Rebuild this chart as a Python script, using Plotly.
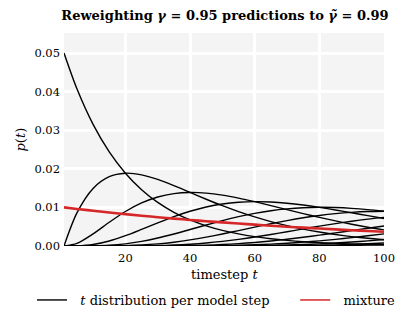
import plotly.graph_objects as go

# timesteps at which the curves were read
timesteps = [1, 5, 10, 15, 20, 25, 30, 35, 40, 45, 50, 55, 60, 65, 70, 75, 80, 85, 90, 95, 100]

# p(t) for each model step (1..12)
step1 = [0.05, 0.04073, 0.03151, 0.02438, 0.01887, 0.01460, 0.01130, 0.00874, 0.00676, 0.00523, 0.00405,
         0.00313, 0.00242, 0.00188, 0.00145, 0.00112, 0.00087, 0.00067, 0.00052, 0.00040, 0.00031]
step2 = [0.0, 0.008574, 0.014927, 0.017967, 0.018868, 0.018441, 0.017243, 0.015643, 0.013883, 0.012120, 0.010443,
         0.008906, 0.007529, 0.006320, 0.005272, 0.004374, 0.003615, 0.002974, 0.002438, 0.001992, 0.001623]
step3 = [0.0, 0.000677, 0.003143, 0.006147, 0.008937, 0.011162, 0.012705, 0.013585, 0.013883, 0.013715, 0.013192,
         0.012422, 0.011492, 0.010478, 0.009433, 0.008403, 0.007421, 0.006495, 0.005646, 0.004875, 0.004187]
step4 = [0.0, 0.0000237, 0.000386, 0.001294, 0.002666, 0.004308, 0.006018, 0.007626, 0.009012, 0.010106, 0.010877,
         0.011332, 0.011492, 0.011397, 0.011088, 0.010615, 0.010024, 0.009344, 0.008618, 0.007869, 0.007125]
step5 = [0.0, 0.0000003, 0.0000305, 0.000187, 0.000561, 0.001190, 0.002059, 0.003111, 0.004269, 0.005452, 0.006584,
         0.007605, 0.008468, 0.009148, 0.009629, 0.009917, 0.010024, 0.009959, 0.009752, 0.009424, 0.009002]
step6 = [0.0, 0.0, 0.0000016, 0.0000197, 0.0000886, 0.000251, 0.000542, 0.000982, 0.001573, 0.002295, 0.003119,
         0.004002, 0.004903, 0.005778, 0.006589, 0.007308, 0.007912, 0.008386, 0.008724, 0.008927, 0.009001]
step7 = [0.0, 0.0, 0.0, 0.0000016, 0.0000109, 0.0000418, 0.000114, 0.000250, 0.000469, 0.000785, 0.001204,
         0.001720, 0.002322, 0.002990, 0.003699, 0.004423, 0.005136, 0.005811, 0.006428, 0.006969, 0.007422]
step8 = [0.0, 0.0, 0.0, 0.0, 0.0000011, 0.0000057, 0.0000197, 0.0000526, 0.000116, 0.000224, 0.000389,
         0.000621, 0.000925, 0.001304, 0.001752, 0.002262, 0.002819, 0.003408, 0.004012, 0.004611, 0.005190]
step9 = [0.0, 0.0, 0.0, 0.0, 0.0, 0.0000006, 0.0000029, 0.0000093, 0.0000245, 0.0000546, 0.000108,
         0.000192, 0.000317, 0.000489, 0.000715, 0.000997, 0.001335, 0.001726, 0.002164, 0.002639, 0.003141]
step10 = [0.0, 0.0, 0.0, 0.0, 0.0, 0.0, 0.0000004, 0.0000014, 0.0000044, 0.0000115, 0.0000258,
          0.0000516, 0.0000944, 0.000160, 0.000255, 0.000385, 0.000554, 0.000767, 0.001025, 0.001327, 0.001672]
step11 = [0.0, 0.0, 0.0, 0.0, 0.0, 0.0, 0.0, 0.0, 0.0000007, 0.0000021, 0.0000054,
          0.0000122, 0.0000248, 0.0000464, 0.0000805, 0.000132, 0.000204, 0.000303, 0.000432, 0.000594, 0.000792]
step12 = [0.0, 0.0, 0.0, 0.0, 0.0, 0.0, 0.0, 0.0, 0.0, 0.0, 0.0000008,
          0.0000022, 0.0000058, 0.000012, 0.0000227, 0.0000403, 0.0000674, 0.000107, 0.000163, 0.000239, 0.000337]
steps = [step1, step2, step3, step4, step5, step6, step7, step8, step9, step10, step11, step12]

# mixture distribution
mixture = [0.01, 0.009606, 0.009135, 0.008688, 0.008262, 0.007857, 0.007472, 0.007106, 0.006757, 0.006426, 0.006111,
           0.005812, 0.005527, 0.005256, 0.004998, 0.004753, 0.004520, 0.004299, 0.004088, 0.003888, 0.003697]

x_ticks = [20, 40, 60, 80, 100]
y_ticks = [0.0, 0.01, 0.02, 0.03, 0.04, 0.05]
y_tick_labels = ["0.00", "0.01", "0.02", "0.03", "0.04", "0.05"]

SERIF = "DejaVu Serif"
RED = "#d62728"
SP = "&nbsp;"

fig = go.Figure()
for i, s in enumerate(steps):
    fig.add_trace(go.Scatter(
        x=timesteps, y=s, mode="lines",
        line=dict(color="black", width=1.4, shape="spline", smoothing=0.8),
        name=SP * 2 + "<i>t</i> distribution per model step" + SP * 5,
        legendgroup="steps", showlegend=(i == 0),
    ))
fig.add_trace(go.Scatter(
    x=timesteps, y=mixture, mode="lines",
    line=dict(color=RED, width=2.6, shape="spline"),
    name="mixture", showlegend=False, legendgroup="mix",
))
# legend entry for mixture with thinner line
fig.add_trace(go.Scatter(
    x=[None], y=[None], mode="lines",
    line=dict(color=RED, width=1.5),
    name=SP * 2 + "mixture", legendgroup="mix",
))

fig.update_layout(
    width=404, height=317,
    margin=dict(l=56, r=28, t=25, b=79, autoexpand=False),
    paper_bgcolor="white", plot_bgcolor="#f4f4f4",
    font=dict(family=SERIF, size=11, color="black"),
    title=dict(
        text="<b>Reweighting <i>γ</i> = 0.95 predictions to <i>γ̃</i> = 0.99</b>",
        x=0.537, xanchor="center", y=0.978, yanchor="middle",
        font=dict(family=SERIF, size=13, color="black"),
    ),
    showlegend=True,
    legend=dict(
        orientation="h", x=-0.1, xanchor="left", y=-0.2535, yanchor="middle",
        font=dict(family=SERIF, size=13), bgcolor="rgba(0,0,0,0)",
        itemwidth=30, tracegroupgap=0,
    ),
    annotations=[
        dict(text="timestep <i>t</i>", xref="paper", yref="paper", x=0.5, y=-0.136,
             xanchor="center", yanchor="middle", showarrow=False,
             font=dict(family=SERIF, size=13)),
        dict(text="<i>p</i>(<i>t</i>)", xref="paper", yref="paper", x=-0.1375, y=0.5,
             xanchor="center", yanchor="middle", showarrow=False, textangle=-90,
             font=dict(family=SERIF, size=13)),
    ],
)
fig.update_xaxes(
    range=[1, 100], tickvals=x_ticks, ticks="", showline=False, zeroline=False,
    showgrid=True, gridcolor="white", gridwidth=3, automargin=False,
    tickfont=dict(family=SERIF, size=11.5), ticklabelstandoff=3,
)
fig.update_yaxes(
    range=[0, 0.0552], tickvals=y_ticks, ticktext=y_tick_labels, ticks="", showline=False, zeroline=False,
    showgrid=True, gridcolor="white", gridwidth=3, automargin=False,
    tickfont=dict(family=SERIF, size=11.5), ticklabelstandoff=3,
)

fig.write_html("out.html")
